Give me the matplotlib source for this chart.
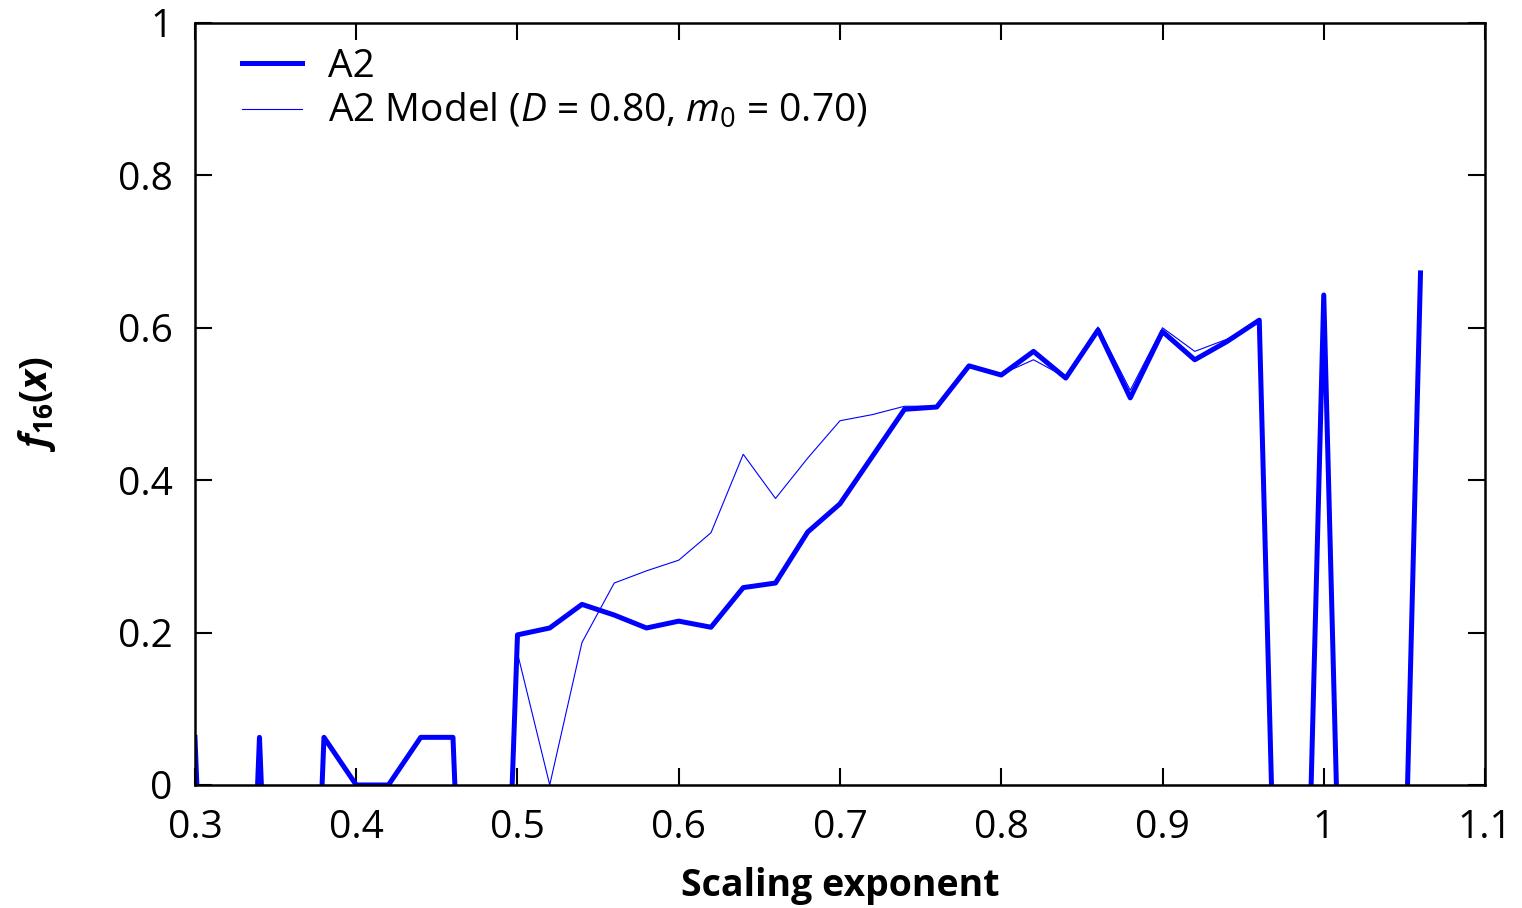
import numpy as np
import matplotlib
matplotlib.use("Agg")
import matplotlib.pyplot as plt

plt.rcParams["font.family"] = ["Open Sans", "DejaVu Sans"]
plt.rcParams["mathtext.fontset"] = "custom"
plt.rcParams["mathtext.rm"] = "Open Sans"
plt.rcParams["mathtext.it"] = "Open Sans:italic"
plt.rcParams["mathtext.bf"] = "Open Sans:bold"
plt.rcParams["mathtext.bfit"] = "Open Sans:bold:italic"

# scaling exponent grid (values below 0 are off the plotted range)
x = [0.30, 0.32, 0.34, 0.36, 0.38, 0.40, 0.42, 0.44, 0.46, 0.48,
     0.50, 0.52, 0.54, 0.56, 0.58, 0.60, 0.62, 0.64, 0.66, 0.68,
     0.70, 0.72, 0.74, 0.76, 0.78, 0.80, 0.82, 0.84, 0.86, 0.88,
     0.90, 0.92, 0.94, 0.96, 0.98, 1.00, 1.02, 1.04, 1.06]

a2 = [0.0625, -1, 0.0625, -1, 0.0625, 0.0, 0.0, 0.0625, 0.0625, -1,
      0.197, 0.206, 0.237, 0.223, 0.206, 0.215, 0.207, 0.259, 0.265, 0.332,
      0.369, 0.431, 0.493, 0.496, 0.550, 0.538, 0.569, 0.534, 0.597, 0.508,
      0.595, 0.558, 0.582, 0.610, -1, 0.643, -1, -1, 0.672]

a2_model = [0.0625, -1, 0.0625, -1, 0.0625, 0.0, 0.0, 0.0625, 0.0625, -1,
            0.173, 0.0, 0.187, 0.265, 0.281, 0.295, 0.331, 0.434, 0.376, 0.429,
            0.478, 0.486, 0.497, 0.497, 0.551, 0.539, 0.558, 0.535, 0.601, 0.518,
            0.600, 0.569, 0.585, 0.610, -1, 0.643, -1, -1, 0.672]

fig = plt.figure(figsize=(15.22, 9.08), dpi=100)
ax = fig.add_axes([0.1281, 0.1355, 0.8476, 0.8392])

ax.plot(x, a2, color="#0000ff", lw=3.6, label="A2")
ax.plot(x, a2_model, color="#0000ff", lw=0.8,
        label=r"A2 Model ($D$ = 0.80, $m_0$ = 0.70)")

ax.set_xlim(0.3, 1.1)
ax.set_ylim(0, 1)
ax.set_xticks(np.arange(0.3, 1.101, 0.1))
ax.set_xticklabels(["0.3", "0.4", "0.5", "0.6", "0.7", "0.8", "0.9", "1", "1.1"])
ax.set_yticks([0, 0.2, 0.4, 0.6, 0.8, 1])
ax.set_yticklabels(["0", "0.2", "0.4", "0.6", "0.8", "1"])
ax.tick_params(direction="in", top=True, right=True, length=12, width=1.5,
               labelsize=28)
ax.tick_params(axis="x", pad=17)
ax.tick_params(axis="y", pad=16)
for s in ax.spines.values():
    s.set_linewidth(1.8)

ax.set_xlabel("Scaling exponent", fontsize=27, fontweight="bold", labelpad=15)
ax.set_ylabel(r"$\mathbfit{f}_{\mathbf{16}}\mathbf{(}\mathbfit{x}\mathbf{)}$",
              fontsize=27, labelpad=43)

ax.legend(loc="upper left", bbox_to_anchor=(0.0124, 1.008), frameon=False,
          fontsize=28, handlelength=1.55, handletextpad=0.65,
          borderaxespad=0.2, borderpad=0.6, labelspacing=0.15)

fig.savefig("out.png", dpi=100)
